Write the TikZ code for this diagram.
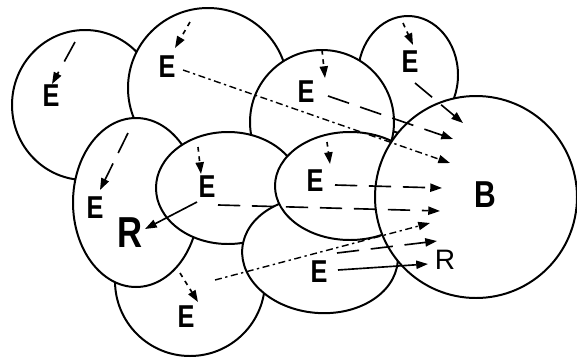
\documentclass[tikz,border=0pt]{standalone}
\usepackage{fontspec}
\usetikzlibrary{arrows.meta}
\newfontfamily\labfont{Liberation Sans}[FakeStretch=0.8]
\newfontfamily\rfont{Liberation Sans}
\begin{document}
\begin{tikzpicture}[x=0.03cm,y=-0.03cm,
  cell/.style={draw=black, line width=1.7pt, fill=white},
  lbl/.style={inner sep=0pt, font=\labfont\bfseries\fontsize{27}{27}\selectfont},
  bigb/.style={inner sep=0pt, font=\labfont\bfseries\fontsize{32}{32}\selectfont},
  bigr/.style={inner sep=0pt, font=\labfont\bfseries\fontsize{37}{37}\selectfont},
  smallr/.style={inner sep=0pt, font=\rfont\fontsize{24}{24}\selectfont},
  ar/.style={line width=1.4pt, -{Triangle[length=10pt,width=7pt]}},
  longdash/.style={ar, dash pattern=on 19pt off 10pt},
  shortdash/.style={ar, dash pattern=on 4pt off 4pt},
  dashdot/.style={ar, line width=1.2pt, dash pattern=on 6pt off 3pt on 2pt off 3pt},
  solidar/.style={ar}
]
\useasboundingbox (0,0) rectangle (577,358);
% cells, back to front
\draw[cell] (85,105) ellipse [x radius=73, y radius=75];      % C1
\draw[cell] (408,75) ellipse [x radius=50, y radius=59];      % C4
\draw[cell] (208,88) circle [radius=80];                      % C2
\draw[cell] (322,122) circle [radius=72];                     % C3
\draw[cell] (190,281) circle [radius=75];                     % C10
\draw[cell] (136,202.5) ellipse [x radius=63, y radius=84.5]; % C9
\draw[cell] (228,188) ellipse [x radius=72, y radius=56];     % C7
\draw[cell] (320,255) ellipse [x radius=78, y radius=58, rotate=-5]; % C8
\draw[cell] (350,186) ellipse [x radius=75, y radius=54];     % C6
\draw[cell] (476,197) circle [radius=101];                    % B
% labels
\node[lbl] (e1) at (51,96) {E};
\node[lbl] (e2) at (167,67) {E};
\node[lbl] (e3) at (306,92) {E};
\node[lbl] (e4) at (410,62) {E};
\node[lbl] (e6) at (315,181) {E};
\node[lbl] (e7) at (207,187) {E};
\node[lbl] (e9) at (95,208) {E};
\node[lbl] (e10) at (186,317) {E};
\node[lbl] (e8) at (319,272) {E};
\node[bigb] (b) at (485,195) {B};
\node[bigr] (rbig) at (130,233) {R};
\node[smallr] (rsmall) at (445,260) {R};
% arrow end points
\coordinate (a1s) at (75,42);   \coordinate (a1e) at (52,84);
\coordinate (a2s) at (190,22);  \coordinate (a2e) at (175,48);
\coordinate (a3s) at (183,70);  \coordinate (a3e) at (450,163);
\coordinate (a4s) at (322,50);  \coordinate (a4e) at (325,78);
\coordinate (a5s) at (328,96);  \coordinate (a5e) at (453,139);
\coordinate (a6s) at (403,23);  \coordinate (a6e) at (413,45);
\coordinate (a7s) at (415,83);  \coordinate (a7e) at (463,123);
\coordinate (a8s) at (327,142); \coordinate (a8e) at (330,164);
\coordinate (a9s) at (335,185); \coordinate (a9e) at (442,188);
\coordinate (a10s) at (198,147);\coordinate (a10e) at (201,174);
\coordinate (a11s) at (218,205);\coordinate (a11e) at (440,211);
\coordinate (a12s) at (197,202);\coordinate (a12e) at (145,229);
\coordinate (a13s) at (128,133);\coordinate (a13e) at (100,190);
\coordinate (a14s) at (180,273);\coordinate (a14e) at (198,302);
\coordinate (a15s) at (215,280);\coordinate (a15e) at (430,223);
\coordinate (a16s) at (338,270);\coordinate (a16e) at (428,264);
\coordinate (a17s) at (337,253);\coordinate (a17e) at (437,241);
% arrows
\draw[longdash] (a1s) -- (a1e);
\draw[shortdash] (a2s) -- (a2e);
\draw[dashdot] (a3s) -- (a3e);
\draw[shortdash] (a4s) -- (a4e);
\draw[longdash] (a5s) -- (a5e);
\draw[shortdash] (a6s) -- (a6e);
\draw[longdash] (a7s) -- (a7e);
\draw[shortdash] (a8s) -- (a8e);
\draw[longdash] (a9s) -- (a9e);
\draw[shortdash] (a10s) -- (a10e);
\draw[longdash] (a11s) -- (a11e);
\draw[solidar] (a12s) -- (a12e);
\draw[longdash] (a13s) -- (a13e);
\draw[shortdash] (a14s) -- (a14e);
\draw[dashdot] (a15s) -- (a15e);
\draw[solidar] (a16s) -- (a16e);
\draw[longdash] (a17s) -- (a17e);
\end{tikzpicture}
\end{document}
